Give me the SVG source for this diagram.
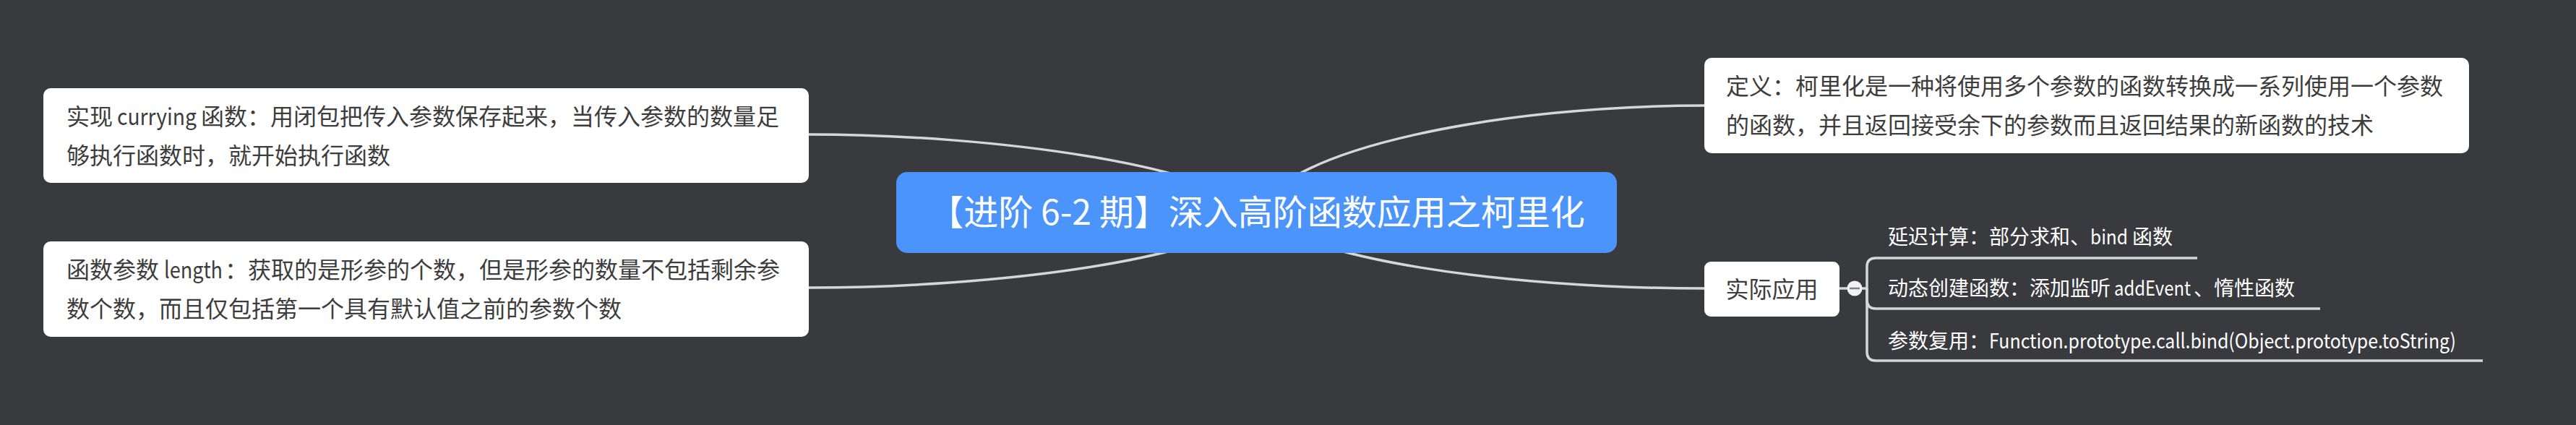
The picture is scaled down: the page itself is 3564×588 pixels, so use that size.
<svg xmlns="http://www.w3.org/2000/svg" width="3564" height="588" viewBox="0 0 3564 588">
<style>
text{font-family:"Noto Sans CJK SC","Noto Sans",sans-serif;}
.box{fill:#ffffff;}
.t32{font-size:32px;fill:#3d3d3d;}
.t28{font-size:28px;fill:#ffffff;}
.main{font-size:48px;fill:#ffffff;}
.conn{fill:none;stroke:#d6d6d6;stroke-width:3.5;stroke-linecap:butt;}
</style>
<rect x="0" y="0" width="3564" height="588" fill="#383a3e"/>
<g id="connectors">
<path class="conn" d="M1739,294 C1680,230 1380,186 1119,186"/>
<path class="conn" d="M1739,294 C1680,358 1380,398 1119,398"/>
<path class="conn" d="M1739,294 C1775,205 2077,146 2358,146"/>
<path class="conn" d="M1739,294 C1798,357 2077,399 2358,399"/>
<path class="conn" d="M2545,399 H2583 V369 Q2583,357 2595,357 H3040"/>
<path class="conn" d="M2583,399 V415 Q2583,427 2595,427 H3210"/>
<path class="conn" d="M2583,399 V487 Q2583,499 2595,499 H3435"/>
</g>
<g id="central">
<rect x="1240" y="238" width="997" height="112" rx="15" fill="#4a94fb"/>
<text class="main" x="1739" y="311" text-anchor="middle">【进阶 6-2 期】深入高阶函数应用之柯里化</text>
</g>
<g id="currying">
<rect class="box" x="60" y="122" width="1059" height="131" rx="10"/>
<text class="t32" x="92" y="173">实现</text>
<text class="t32" x="162" y="173" textLength="110" lengthAdjust="spacingAndGlyphs">currying</text>
<text class="t32" x="278" y="173">函数：用闭包把传入参数保存起来，当传入参数的数量足</text>
<text class="t32" x="92" y="227">够执行函数时，就开始执行函数</text>
</g>
<g id="length">
<rect class="box" x="60" y="334" width="1059" height="132" rx="10"/>
<text class="t32" x="92" y="385">函数参数</text>
<text class="t32" x="227" y="385" textLength="81" lengthAdjust="spacingAndGlyphs">length</text>
<text class="t32" x="311" y="385">：获取的是形参的个数，但是形参的数量不包括剩余参</text>
<text class="t32" x="92" y="439">数个数，而且仅包括第一个具有默认值之前的参数个数</text>
</g>
<g id="definition">
<rect class="box" x="2358" y="80" width="1058" height="132" rx="10"/>
<text class="t32" x="2388" y="131">定义：柯里化是一种将使用多个参数的函数转换成一系列使用一个参数</text>
<text class="t32" x="2388" y="185">的函数，并且返回接受余下的参数而且返回结果的新函数的技术</text>
</g>
<g id="application">
<rect class="box" x="2358" y="362" width="187" height="76" rx="9"/>
<text class="t32" x="2451.5" y="412" text-anchor="middle">实际应用</text>
</g>
<g id="collapse">
<circle cx="2566" cy="399" r="10.5" fill="#f2f2f2"/>
<line x1="2559" y1="399" x2="2573" y2="399" stroke="#808080" stroke-width="2.5"/>
</g>
<g id="delay">
<text class="t28" x="2612" y="338">延迟计算：部分求和、</text>
<text class="t28" x="2892" y="338" textLength="52" lengthAdjust="spacingAndGlyphs">bind</text>
<text class="t28" x="2950" y="338">函数</text>
</g>
<g id="dynamic">
<text class="t28" x="2612" y="409">动态创建函数：添加监听</text>
<text class="t28" x="2925" y="409" textLength="106" lengthAdjust="spacingAndGlyphs">addEvent</text>
<text class="t28" x="3035" y="409">、惰性函数</text>
</g>
<g id="reuse">
<text class="t28" x="2612" y="482">参数复用：</text>
<text class="t28" x="2752" y="482" textLength="646" lengthAdjust="spacingAndGlyphs">Function.prototype.call.bind(Object.prototype.toString)</text>
</g>
</svg>
